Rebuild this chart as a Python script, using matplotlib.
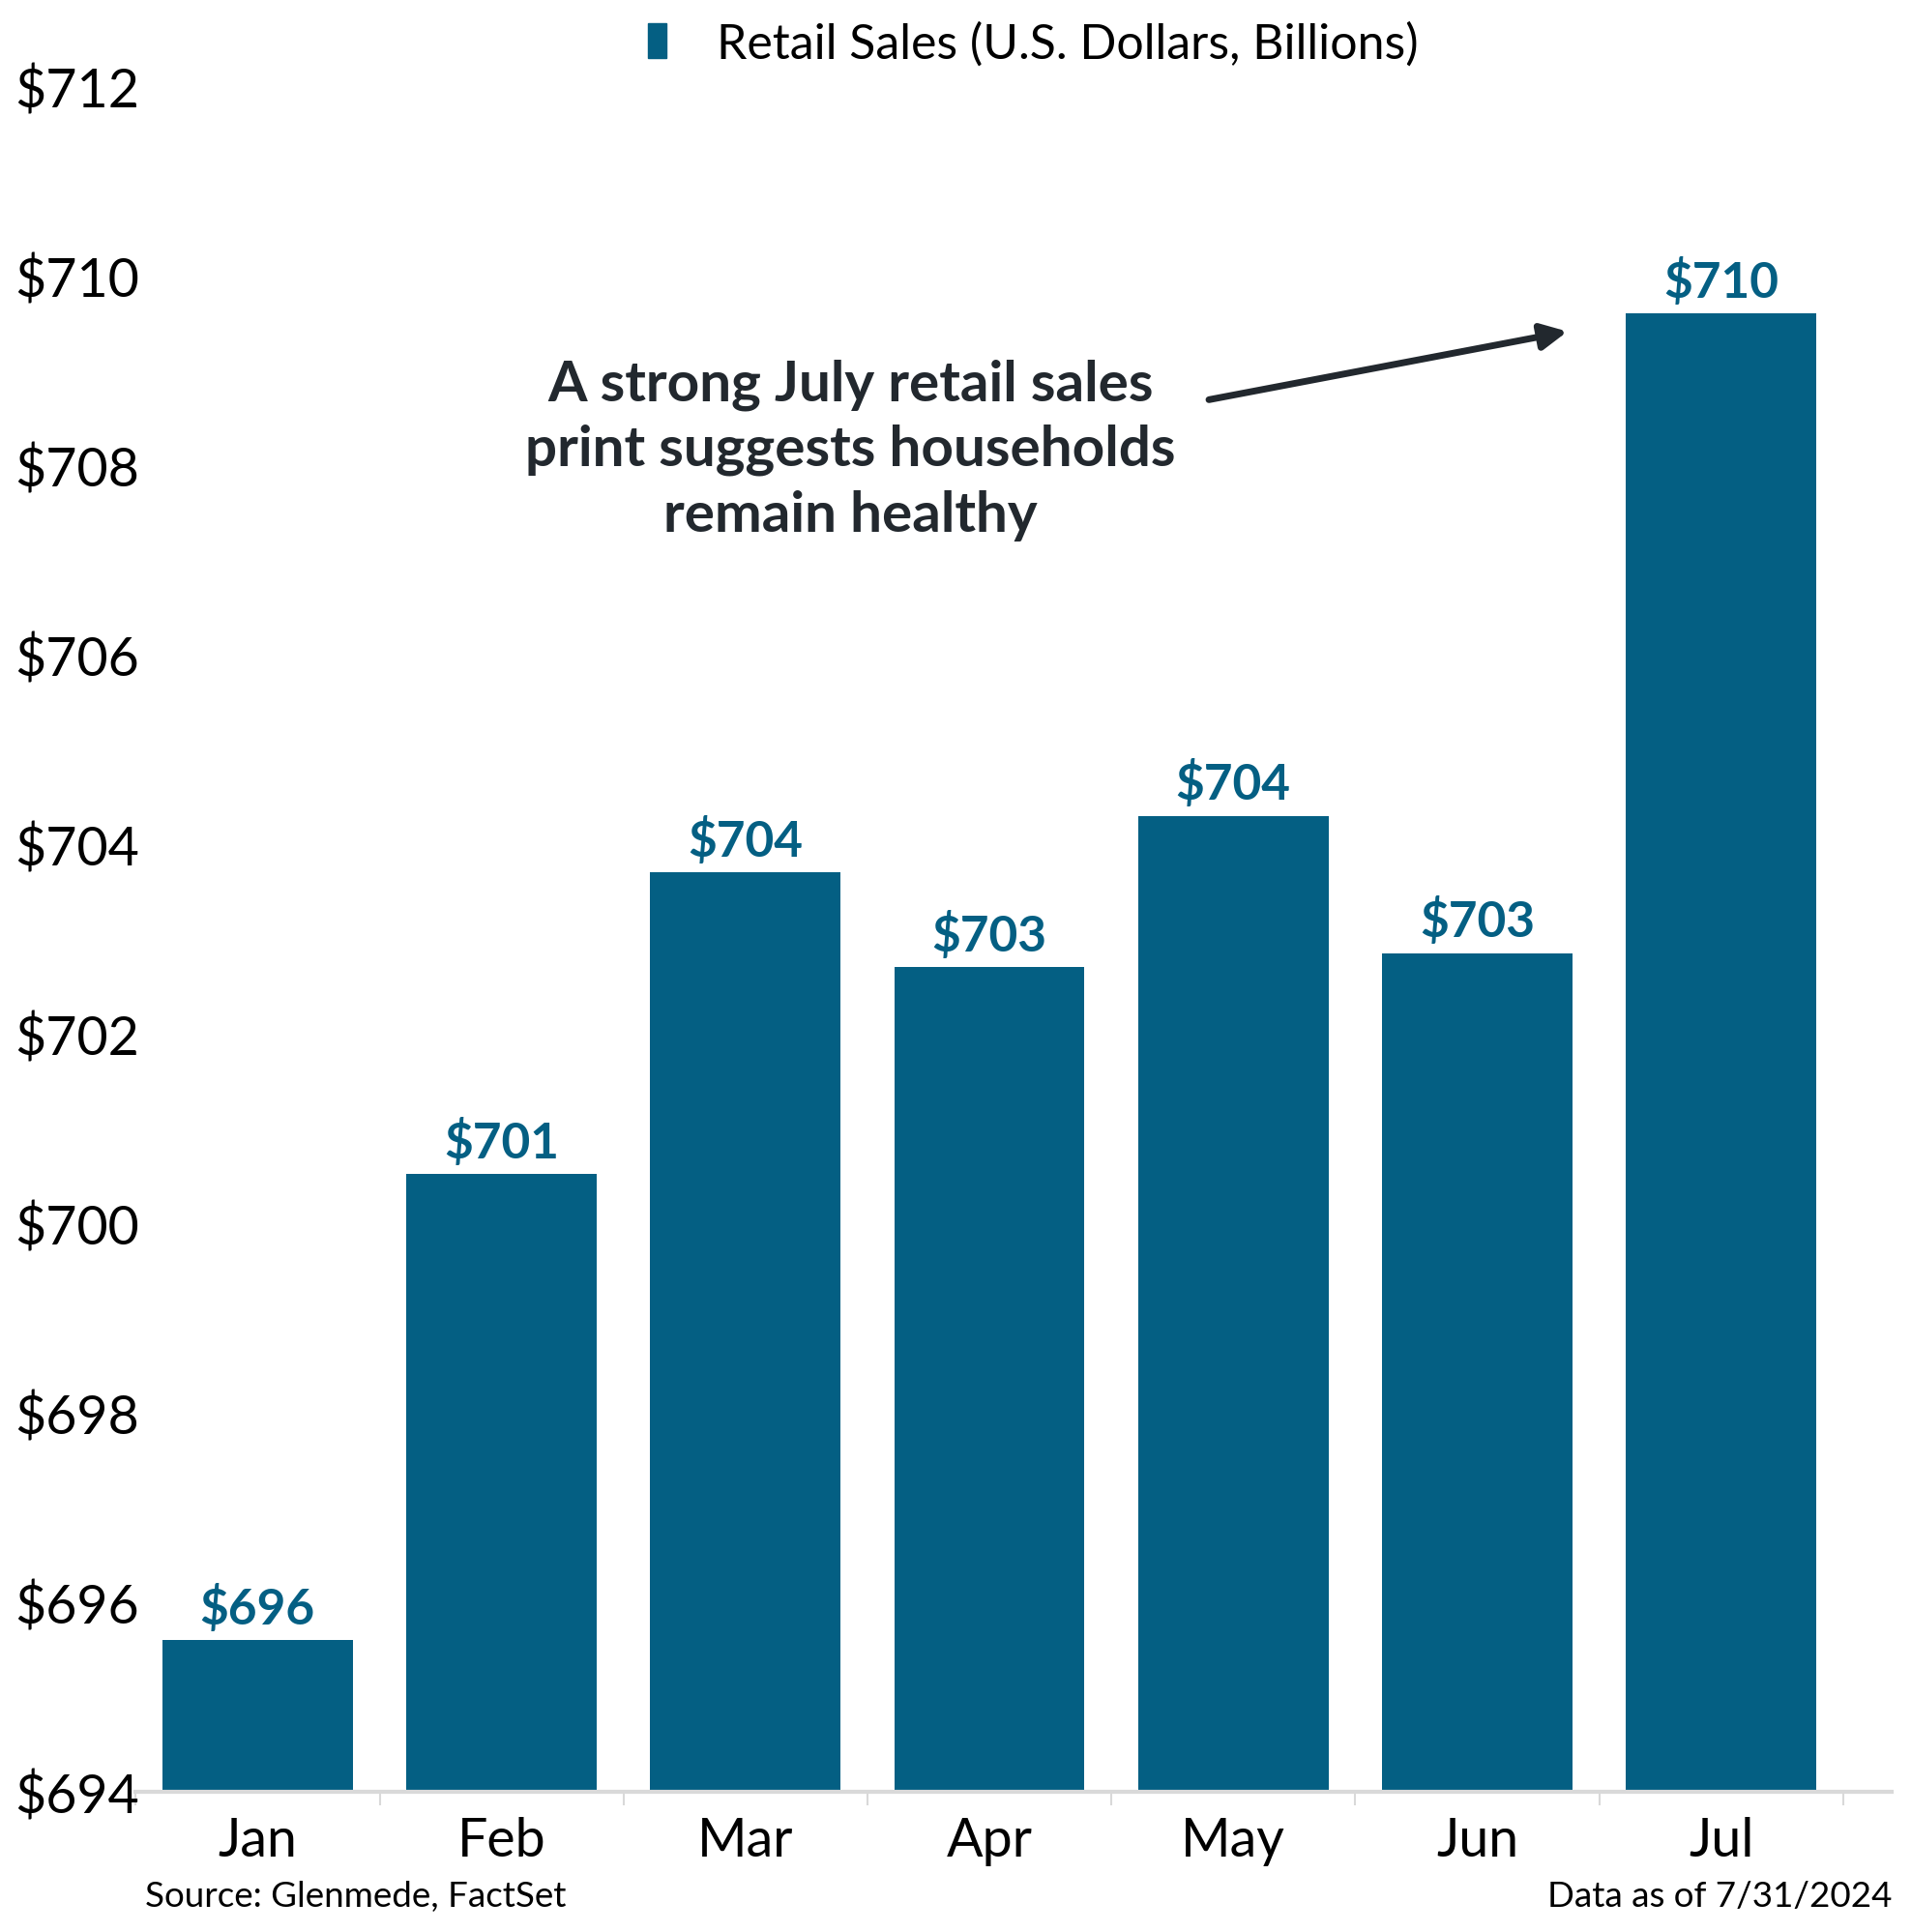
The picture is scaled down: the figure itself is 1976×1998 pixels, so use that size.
import matplotlib
matplotlib.use('Agg')
from matplotlib import pyplot as plt
from matplotlib.patches import Patch

# data
months = ['Jan', 'Feb', 'Mar', 'Apr', 'May', 'Jun', 'Jul']
sales = [695.6, 700.52, 703.7, 702.7, 704.3, 702.85, 709.6]
yticks = [694, 696, 698, 700, 702, 704, 706, 708, 710, 712]

bar_color = '#045f83'
text_dark = '#22282e'

plt.rcParams['font.family'] = ['Lato', 'DejaVu Sans']

fig = plt.figure(figsize=(19.76, 19.99), dpi=100)
ax = fig.add_axes([0.071, 0.0725, 0.919, 0.8825])

x = list(range(len(months)))
bars = ax.bar(x, sales, width=0.78, color=bar_color)
ax.bar_label(bars, labels=['$%d' % int(v + 0.5) for v in sales], padding=6,
             fontsize=37, fontweight='bold', color=bar_color)

ax.set_ylim(694, 712)
ax.set_xlim(-0.5, 6.7)
ax.set_yticks(yticks)
ax.set_yticklabels(['$%d' % t for t in yticks])
ax.set_xticks(x)
ax.set_xticklabels(months)
ax.set_xticks([i - 0.5 for i in range(len(months) + 1)], minor=True)

ax.tick_params(axis='y', length=0, labelsize=40, pad=90)
for lab in ax.get_yticklabels():
    lab.set_horizontalalignment('left')
ax.tick_params(axis='x', which='major', length=0, labelsize=40, pad=18)
ax.tick_params(axis='x', which='minor', length=10, width=1.5, color='#d9d9d9')

for s in ['top', 'right', 'left']:
    ax.spines[s].set_visible(False)
ax.spines['bottom'].set_color('#d9d9d9')
ax.spines['bottom'].set_linewidth(3)

ax.annotate('', xy=(5.37, 709.41), xytext=(3.90, 708.69),
            arrowprops=dict(arrowstyle='-|>', lw=5, color=text_dark, mutation_scale=40,
                            shrinkA=0, shrinkB=0))
ax.text(2.43, 708.17, 'A strong July retail sales\nprint suggests households\nremain healthy',
        ha='center', va='center', fontsize=42, fontweight='bold', color=text_dark,
        linespacing=1.33)

handle = Patch(color=bar_color)
fig.legend([handle], ['Retail Sales (U.S. Dollars, Billions)'], loc='center left',
           bbox_to_anchor=(0.3265, 0.977), frameon=False, fontsize=36,
           handlelength=0.38, handleheight=0.74, handletextpad=1.04, borderpad=0)

fig.text(0.076, 0.019, 'Source: Glenmede, FactSet', fontsize=26.5, va='center', ha='left')
fig.text(0.990, 0.019, 'Data as of 7/31/2024', fontsize=26.5, va='center', ha='right')

fig.savefig('out.png', dpi=100)
